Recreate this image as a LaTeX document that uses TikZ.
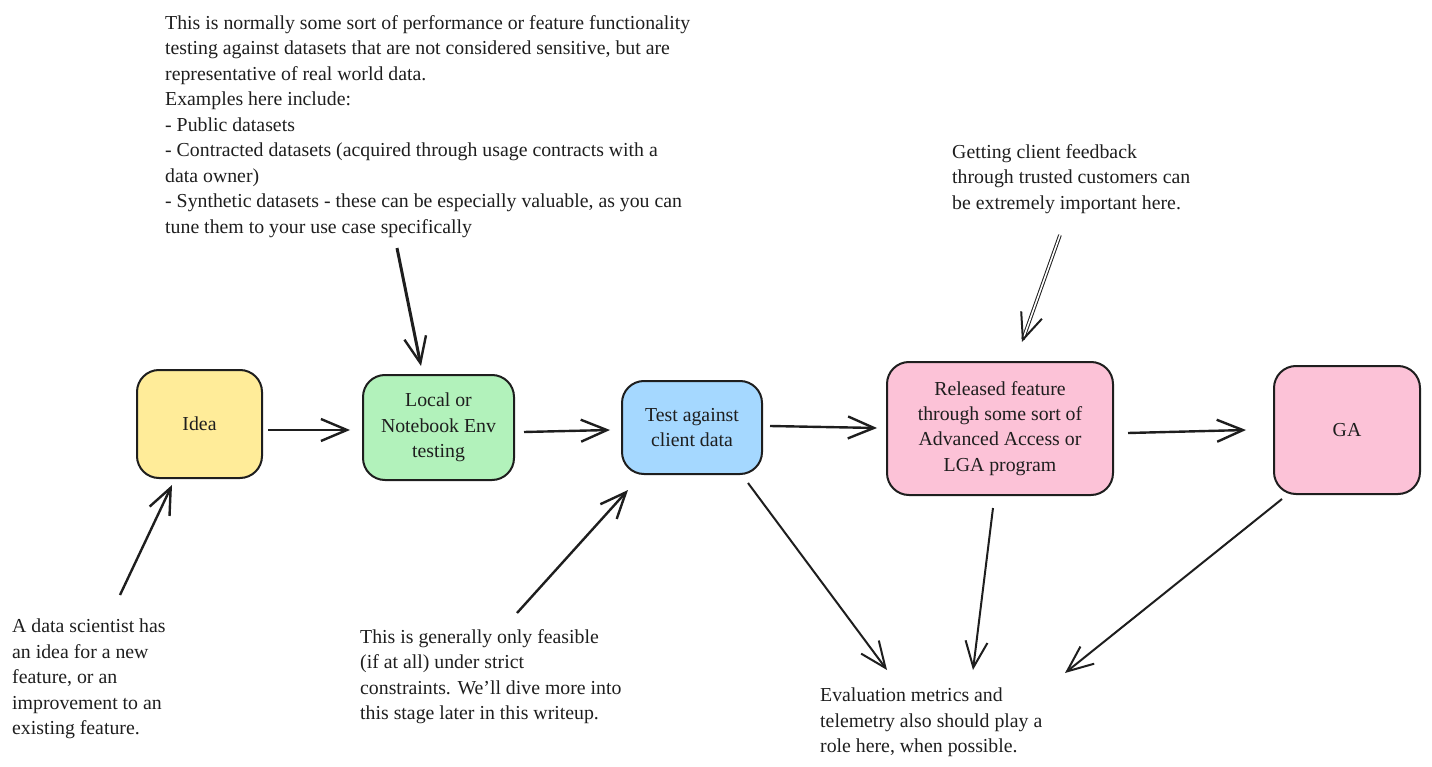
\documentclass[tikz,border=0pt]{standalone}
\usepackage{fontspec}
\setmainfont{Liberation Serif}
\usetikzlibrary{arrows.meta,calc}
\definecolor{cyellow}{HTML}{FFEC99}
\definecolor{cgreen}{HTML}{B2F2BB}
\definecolor{cblue}{HTML}{A5D8FF}
\definecolor{cpink}{HTML}{FCC2D7}
\definecolor{ink}{HTML}{1E1E1E}
\tikzset{
  box/.style={draw=ink, line width=2pt, rounded corners=22pt, align=center, inner sep=0pt, font=\fontsize{19.8}{25.3}\selectfont, text=ink},
  note/.style={align=left, anchor=north west, inner sep=0pt, font=\fontsize{19.8}{25.5}\selectfont, text=ink},
  arr/.style={draw=ink, line width=2.4pt, -{Straight Barb[length=26pt,width=22pt,line width=2.4pt]}},
  thin arr/.style={draw=ink, line width=2pt, -{Straight Barb[length=26pt,width=22pt,line width=2pt]}},
}
\begin{document}
\begin{tikzpicture}[x=1pt,y=-1pt]
\useasboundingbox (0,0) rectangle (1432,767);
% boxes
\node[box, fill=cyellow, minimum width=125pt, minimum height=108pt] (idea) at (199.5,424) {Idea};
\node[box, fill=cgreen, minimum width=151pt, minimum height=105pt] (local) at (438.5,427.5) {Local or\\Notebook Env\\testing};
\node[box, fill=cblue, minimum width=140pt, minimum height=93pt] (test) at (692,427.5) {Test against\\client data};
\node[box, fill=cpink, minimum width=226pt, minimum height=133pt] (rel) at (1000,428.5) {Released feature\\through some sort of\\Advanced Access or\\LGA program};
\node[box, fill=cpink, minimum width=146pt, minimum height=128pt] (ga) at (1347,430) {GA};
% notes
\node[note] (ntop) at (165,15) {This is normally some sort of performance or feature functionality\\testing against datasets that are not considered sensitive, but are\\representative of real world data.\\Examples here include:\\- Public datasets\\- Contracted datasets (acquired through usage contracts with a\\data owner)\\- Synthetic datasets - these can be especially valuable, as you can\\tune them to your use case specifically};
\node[note] (nleft) at (12,619) {A data scientist has\\an idea for a new\\feature, or an\\improvement to an\\existing feature.};
\node[note] (nmid) at (360,629) {This is generally only feasible\\(if at all) under strict\\constraints. We'll dive more into\\this stage later in this writeup.};
\node[note] (nright) at (952,144) {Getting client feedback\\through trusted customers can\\be extremely important here.};
\node[note] (neval) at (820,688) {Evaluation metrics and\\telemetry also should play a\\role here, when possible.};
% coordinates
\coordinate (a1s) at (268,430); \coordinate (a1e) at (350,430);
\coordinate (a2s) at (524,432); \coordinate (a2e) at (610,430);
\coordinate (a3s) at (770,426); \coordinate (a3e) at (877,428);
\coordinate (a4s) at (1128,433); \coordinate (a4e) at (1246,430);
\coordinate (t1s) at (397,248); \coordinate (t1e) at (421,366);
\coordinate (l1s) at (120,595); \coordinate (l1e) at (172,485);
\coordinate (m1s) at (517,613); \coordinate (m1e) at (628,490);
\coordinate (e1s) at (748,483); \coordinate (e1e) at (887,670);
\coordinate (e2s) at (993,508); \coordinate (e2e) at (973,670);
\coordinate (e3s) at (1282,499); \coordinate (e3e) at (1065,673);
\coordinate (r1s) at (1060,235); \coordinate (r1e) at (1022,342);
% arrows
\draw[arr] (a1s) -- (a1e);
\draw[arr] (a2s) -- (a2e);
\draw[arr] (a3s) -- (a3e);
\draw[arr] (a4s) -- (a4e);
\draw[arr, line width=3pt] (t1s) -- (t1e);
\draw[arr] (l1s) -- (l1e);
\draw[arr] (m1s) -- (m1e);
\draw[thin arr] (e1s) -- (e1e);
\draw[thin arr] (e2s) -- (e2e);
\draw[thin arr] (e3s) -- (e3e);
\draw[ink, line width=1pt, double, double distance=1.6pt, shorten >=3pt] (r1s) -- (r1e);
\draw[thin arr] ($(r1e)!3pt!(r1s)$) -- (r1e);
\end{tikzpicture}
\end{document}
